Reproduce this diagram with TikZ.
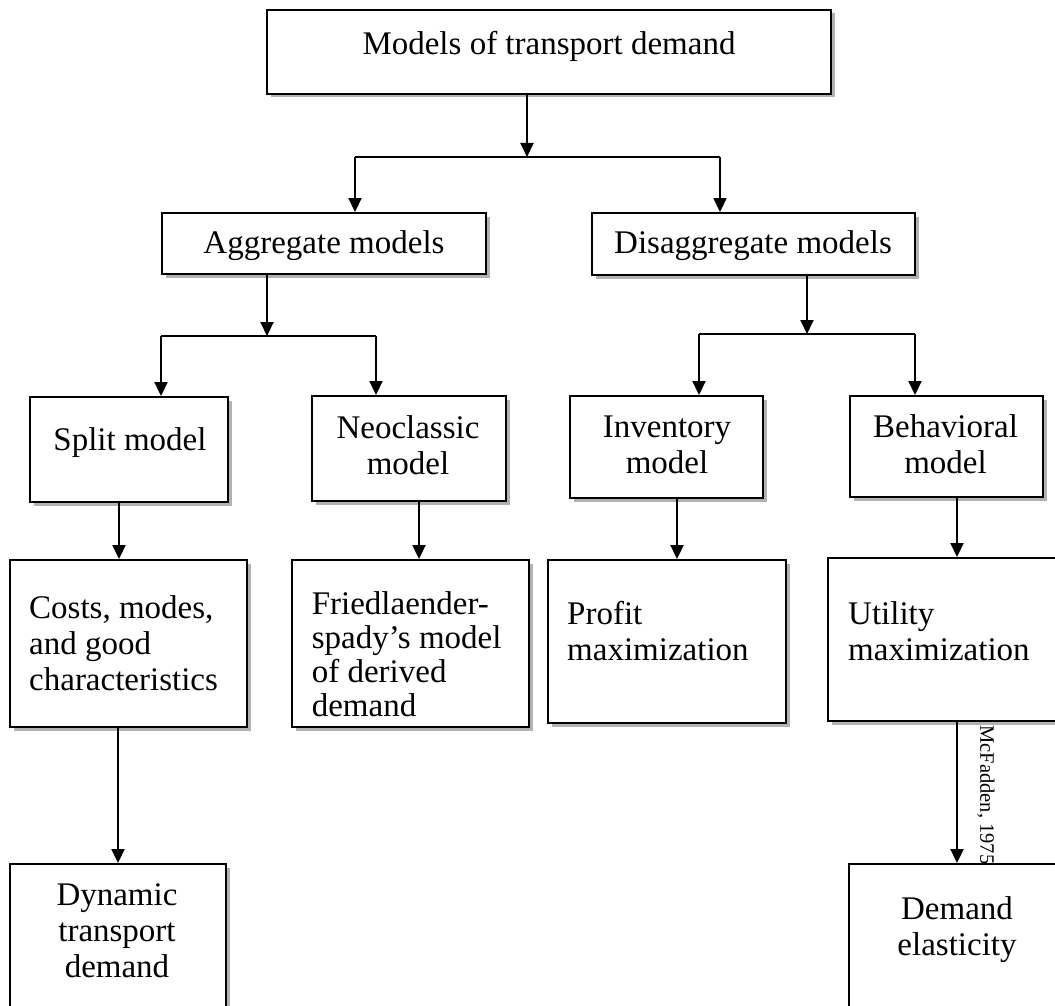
\documentclass[tikz,border=0pt]{standalone}
\usepackage{fontspec}
\setmainfont{Liberation Serif}
\usetikzlibrary{arrows.meta,shadows}
\begin{document}
\begin{tikzpicture}[x=1pt,y=-1pt,
  box/.style={draw, line width=1.9pt, fill=white, rectangle, inner sep=0pt,
    drop shadow={shadow xshift=3.5pt,shadow yshift=-3.5pt,fill=black,opacity=0.3}},
  txt/.style={inner sep=0pt, font=\fontsize{33}{36}\selectfont},
  conn/.style={line width=1.9pt},
  arr/.style={conn, -{Triangle[length=14pt,width=13pt]}},
]
\path[use as bounding box, clip] (0,0) rectangle (1055,1006);
\fill[white] (0,0) rectangle (1055,1006);

% boxes
\node[box, minimum width=564, minimum height=84] (top) at (549,52) {};
\node[box, minimum width=324, minimum height=61] (agg) at (324,243.5) {};
\node[box, minimum width=323, minimum height=62] (dis) at (753.5,244) {};
\node[box, minimum width=198, minimum height=105] (split) at (129,449.5) {};
\node[box, minimum width=194, minimum height=105] (neo) at (409,448.5) {};
\node[box, minimum width=193, minimum height=102] (inv) at (666.5,447) {};
\node[box, minimum width=193, minimum height=101] (beh) at (946.5,446.5) {};
\node[box, minimum width=237, minimum height=167] (costs) at (128.5,643.5) {};
\node[box, minimum width=237, minimum height=167] (fried) at (410.5,643.5) {};
\node[box, minimum width=238, minimum height=163] (profit) at (667,641.5) {};
\node[box, minimum width=258, minimum height=163] (util) at (957,639.5) {};

% rotated source note
\node[inner sep=0pt, font=\fontsize{20.5}{24}\selectfont, rotate=-90] (mcf) at (986,795) {McFadden, 1975};

\node[box, minimum width=216, minimum height=176] (dyn) at (118,952) {};
\node[box, minimum width=216, minimum height=176] (elast) at (957,952) {};

% texts
\node[txt] (ttop) at (549,46) {Models of transport demand};
\node[txt] (tagg) at (324,246) {Aggregate models};
\node[txt] (tdis) at (753,246) {Disaggregate models};
\node[txt] (tsplit) at (130,443) {Split model};
\node[txt, align=center] (tneo) at (408,445) {Neoclassic\\model};
\node[txt, align=center] (tinv) at (667,444.5) {Inventory\\model};
\node[txt, align=center] (tbeh) at (945.5,444.5) {Behavioral\\model};
\node[txt, align=left, anchor=west] (tcosts) at (29,643) {Costs, modes,\\and good\\characteristics};
\node[txt, font=\fontsize{33}{34}\selectfont, align=left, anchor=west] (tfried) at (311.6,654) {Friedlaender-\\spady’s model\\of derived\\demand};
\node[txt, align=left, anchor=west] (tprofit) at (567,631.5) {Profit\\maximization};
\node[txt, align=left, anchor=west] (tutil) at (848,631) {Utility\\maximization};
\node[txt, align=center] (tdyn) at (117,931) {Dynamic\\transport\\demand};
\node[txt, align=center] (telast) at (957,929.5) {Demand\\elasticity};

% junctions
\coordinate (j0) at (527,157);
\coordinate (j0l) at (355,157);
\coordinate (j0r) at (720,157);
\coordinate (j1) at (267,336);
\coordinate (j1l) at (161,336);
\coordinate (j1r) at (376,336);
\coordinate (j2) at (807,334);
\coordinate (j2l) at (699,334);
\coordinate (j2r) at (915,334);
\coordinate (xa) at (119,0);
\coordinate (xb) at (419,0);
\coordinate (xc) at (677,0);
\coordinate (xd) at (957,0);
\coordinate (xe) at (118,0);

% connectors
\draw[arr] (top.south -| j0) -- (j0);
\draw[conn] (j0l) -- (j0r);
\draw[arr] (j0l) -- (agg.north -| j0l);
\draw[arr] (j0r) -- (dis.north -| j0r);

\draw[arr] (agg.south -| j1) -- (j1);
\draw[conn] (j1l) -- (j1r);
\draw[arr] (j1l) -- (split.north -| j1l);
\draw[arr] (j1r) -- (neo.north -| j1r);

\draw[arr] (dis.south -| j2) -- (j2);
\draw[conn] (j2l) -- (j2r);
\draw[arr] (j2l) -- (inv.north -| j2l);
\draw[arr] (j2r) -- (beh.north -| j2r);

\draw[arr] (split.south -| xa) -- (costs.north -| xa);
\draw[arr] (neo.south -| xb) -- (fried.north -| xb);
\draw[arr] (inv.south -| xc) -- (profit.north -| xc);
\draw[arr] (beh.south -| xd) -- (util.north -| xd);
\draw[arr] (costs.south -| xe) -- (dyn.north -| xe);
\draw[arr] (util.south -| xd) -- (elast.north -| xd);
\end{tikzpicture}
\end{document}
